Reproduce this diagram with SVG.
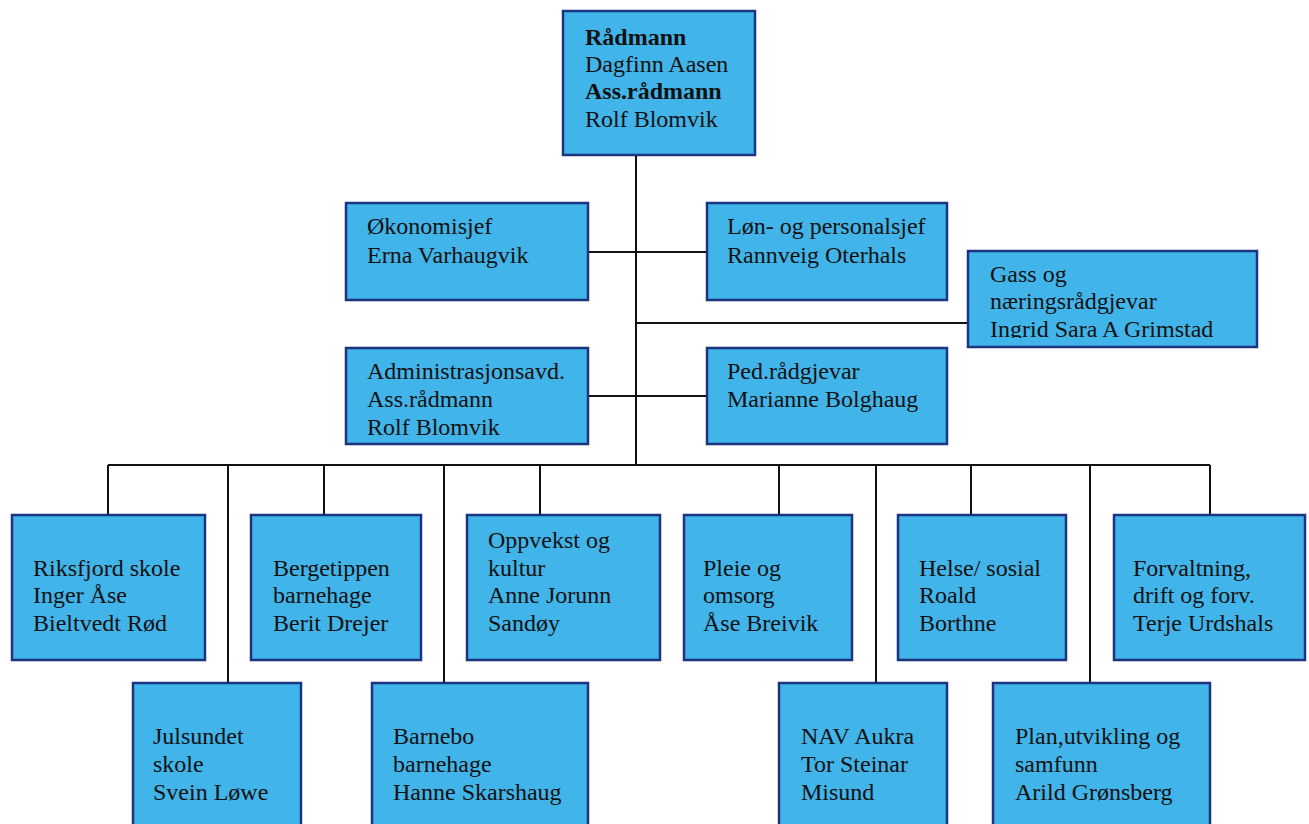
<svg xmlns="http://www.w3.org/2000/svg" width="1309" height="824" viewBox="0 0 1309 824">
<style>
.box{fill:#41b4e9;stroke:#1d3580;stroke-width:2.5}
.ln{stroke:#111;stroke-width:2;fill:none}
text{font-family:"Liberation Serif","Times New Roman",serif;font-size:24px;fill:#111}
.b{font-weight:bold}
</style>
<defs>
<clipPath id="cg"><rect x="968" y="251" width="289" height="87"/></clipPath>
<clipPath id="ca"><rect x="346" y="348" width="242" height="89"/></clipPath>
</defs>
<rect width="1309" height="824" fill="#fff"/>
<g id="connectors">
<path class="ln" d="M636 155V465M588 252H707M636 323H968M588 396H707M108 465H1210"/>
<path class="ln" d="M108 465V515M228 465V683M324 465V515M444 465V683M540 465V515M779 465V515M876 465V683M971 465V515M1090 465V683M1210 465V515"/>
</g>
<g id="radmann"><rect class="box" x="563" y="11" width="192" height="144"/>
<text x="585" y="45" class="b">Rådmann</text><text x="585" y="72">Dagfinn Aasen</text><text x="585" y="99" class="b">Ass.rådmann</text><text x="585" y="127">Rolf Blomvik</text></g>
<g id="okonomi"><rect class="box" x="346" y="203" width="242" height="97"/>
<text x="367" y="234">Økonomisjef</text><text x="367" y="263">Erna Varhaugvik</text></g>
<g id="lon"><rect class="box" x="707" y="203" width="240" height="97"/>
<text x="727" y="234">Løn- og personalsjef</text><text x="727" y="263">Rannveig Oterhals</text></g>
<g id="gass"><rect class="box" x="968" y="251" width="289" height="96"/>
<g clip-path="url(#cg)"><text x="990" y="282">Gass og</text><text x="990" y="309">næringsrådgjevar</text><text x="990" y="337">Ingrid Sara A Grimstad</text></g></g>
<g id="admin"><rect class="box" x="346" y="348" width="242" height="96"/>
<g clip-path="url(#ca)"><text x="367" y="379">Administrasjonsavd.</text><text x="367" y="407">Ass.rådmann</text><text x="367" y="435">Rolf Blomvik</text></g></g>
<g id="ped"><rect class="box" x="707" y="348" width="240" height="96"/>
<text x="727" y="379">Ped.rådgjevar</text><text x="727" y="407">Marianne Bolghaug</text></g>
<g id="riksfjord"><rect class="box" x="12" y="515" width="193" height="145"/>
<text x="33" y="576">Riksfjord skole</text><text x="33" y="603">Inger Åse</text><text x="33" y="631">Bieltvedt Rød</text></g>
<g id="bergetippen"><rect class="box" x="251" y="515" width="170" height="145"/>
<text x="273" y="576">Bergetippen</text><text x="273" y="603">barnehage</text><text x="273" y="631">Berit Drejer</text></g>
<g id="oppvekst"><rect class="box" x="467" y="515" width="193" height="145"/>
<text x="488" y="548">Oppvekst og</text><text x="488" y="576">kultur</text><text x="488" y="603">Anne Jorunn</text><text x="488" y="631">Sandøy</text></g>
<g id="pleie"><rect class="box" x="684" y="515" width="168" height="145"/>
<text x="703" y="576">Pleie og</text><text x="703" y="603">omsorg</text><text x="703" y="631">Åse Breivik</text></g>
<g id="helse"><rect class="box" x="898" y="515" width="168" height="145"/>
<text x="919" y="576">Helse/ sosial</text><text x="919" y="603">Roald</text><text x="919" y="631">Borthne</text></g>
<g id="forvaltning"><rect class="box" x="1114" y="515" width="191" height="145"/>
<text x="1133" y="576">Forvaltning,</text><text x="1133" y="603">drift og forv.</text><text x="1133" y="631">Terje Urdshals</text></g>
<g id="julsundet"><rect class="box" x="133" y="683" width="168" height="150"/>
<text x="153" y="744">Julsundet</text><text x="153" y="772">skole</text><text x="153" y="800">Svein Løwe</text></g>
<g id="barnebo"><rect class="box" x="372" y="683" width="216" height="150"/>
<text x="393" y="744">Barnebo</text><text x="393" y="772">barnehage</text><text x="393" y="800">Hanne Skarshaug</text></g>
<g id="nav"><rect class="box" x="779" y="683" width="168" height="150"/>
<text x="801" y="744">NAV Aukra</text><text x="801" y="772">Tor Steinar</text><text x="801" y="800">Misund</text></g>
<g id="plan"><rect class="box" x="993" y="683" width="217" height="150"/>
<text x="1015" y="744">Plan,utvikling og</text><text x="1015" y="772">samfunn</text><text x="1015" y="800">Arild Grønsberg</text></g>
</svg>
